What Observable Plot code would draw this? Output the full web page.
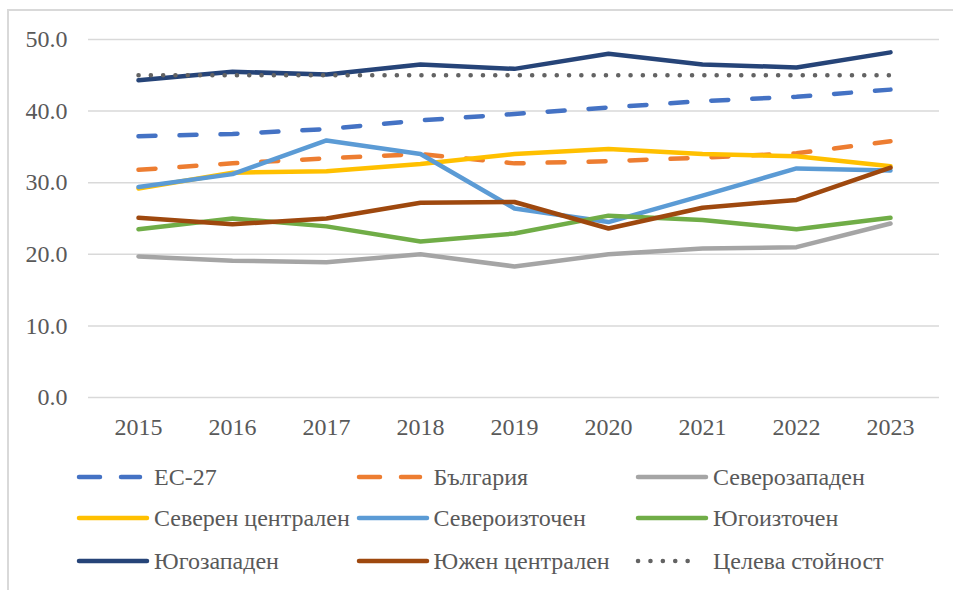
<!DOCTYPE html>
<html>
<head>
<meta charset="utf-8">
<script src="https://cdn.jsdelivr.net/npm/d3@7"></script>
<script src="https://cdn.jsdelivr.net/npm/@observablehq/plot@0.6"></script>
<style>
  html, body { margin: 0; padding: 0; background: #fff; }
  #wrap { position: relative; width: 953px; height: 590px; overflow: hidden; font-family: "Liberation Serif", "Times New Roman", serif; color: #595959; }
  #border { position: absolute; left: 7px; top: 9px; width: 1100px; height: 800px; border: 2px solid #D9D9D9; box-sizing: border-box; }
  #chart { position: absolute; left: 0; top: 0; }
  #legend { position: absolute; left: 0; top: 460px; width: 953px; height: 130px; }
  .item { position: absolute; height: 30px; }
  .item svg { position: absolute; left: 0; top: 0; }
  .item span { position: absolute; top: 0; font-size: 24px; white-space: nowrap; line-height: 30px; }
  #chart svg text { font-family: "Liberation Serif", "Times New Roman", serif; }
</style>
</head>
<body>
<div id="wrap">
  <div id="border"></div>
  <div id="chart"></div>
  <div id="legend"></div>
</div>
<script>
const years = ["2015","2016","2017","2018","2019","2020","2021","2022","2023"];
const seriesNames = ["ЕС-27","България","Северозападен","Северен централен","Североизточен","Югоизточен","Югозападен","Южен централен","Целева стойност"];
const eu27 = [36.5,36.8,37.5,38.7,39.6,40.5,41.4,42.0,43.0];
const bulgaria = [31.8,32.7,33.4,34.0,32.7,33.0,33.5,34.1,35.8];
const severozapaden = [19.7,19.1,18.9,20.0,18.3,20.0,20.8,21.0,24.3];
const severenCentralen = [29.2,31.4,31.6,32.6,34.0,34.7,34.0,33.7,32.3];
const severoiztochen = [29.4,31.2,35.9,34.0,26.4,24.5,28.2,32.0,31.7];
const yugoiztochen = [23.5,25.0,23.9,21.8,22.9,25.4,24.8,23.5,25.1];
const yugozapaden = [44.3,45.5,45.1,46.5,45.9,48.0,46.5,46.1,48.2];
const yuzhenCentralen = [25.1,24.2,25.0,27.2,27.3,23.6,26.5,27.6,32.1];
const target = [45,45,45,45,45,45,45,45,45];
const yTicks = [0,10,20,30,40,50];

const values = [eu27,bulgaria,severozapaden,severenCentralen,severoiztochen,yugoiztochen,yugozapaden,yuzhenCentralen,target];
const colors = ["#4472C4","#ED7D31","#A5A5A5","#FFC000","#5B9BD5","#70AD47","#264478","#9E480E","#636363"];
const dashes = ["17,24","17,24",null,null,null,null,null,null,"0.1,12.2"];

const marks = [
  Plot.ruleY(yTicks, {stroke: "#D9D9D9", strokeWidth: 1.5}),
  Plot.axisY({ticks: yTicks, tickFormat: d => d.toFixed(1), tickSize: 0, tickPadding: 21, fontSize: 24}),
  Plot.axisX({tickSize: 0, tickPadding: 20, fontSize: 24})
];
seriesNames.forEach((name, i) => {
  const data = years.map((y, j) => ({year: y, value: values[i][j]}));
  const opts = {x: "year", y: "value", stroke: colors[i], strokeWidth: 4.5, strokeLinecap: "round", strokeLinejoin: "round"};
  if (dashes[i]) opts.strokeDasharray = dashes[i];
  marks.push(Plot.line(data, opts));
});

const chart = Plot.plot({
  width: 953,
  height: 460,
  marginLeft: 88,
  marginRight: 14,
  marginTop: 39,
  marginBottom: 63,
  style: {fontFamily: '"Liberation Serif", "Times New Roman", serif', fontSize: "24px", color: "#595959", background: "transparent"},
  x: {type: "point", domain: years, label: null, padding: 0.5},
  y: {domain: [0, 50], label: null},
  marks
});
document.getElementById("chart").appendChild(chart);

// Legend
const legend = d3.select("#legend");
const colX = [74, 353.5, 633];
const rowY = [17, 58, 101];
seriesNames.forEach((name, i) => {
  const c = i % 3, r = Math.floor(i / 3);
  const item = legend.append("div").attr("class", "item")
    .style("left", colX[c] + "px").style("top", (rowY[r] - 15) + "px");
  const svg = item.append("svg").attr("width", 80).attr("height", 30);
  const isDot = i === 8;
  svg.append("line").attr("x1", 5).attr("x2", dashes[i] ? (isDot ? 67 : 66) : 73)
    .attr("y1", 15).attr("y2", 15)
    .attr("stroke", colors[i]).attr("stroke-width", 4.5).attr("stroke-linecap", "round")
    .attr("stroke-dasharray", dashes[i] ? (isDot ? "0.1,12.3" : "21,21") : null);
  item.append("span").style("left", "80px").text(name);
});
</script>
</body>
</html>
